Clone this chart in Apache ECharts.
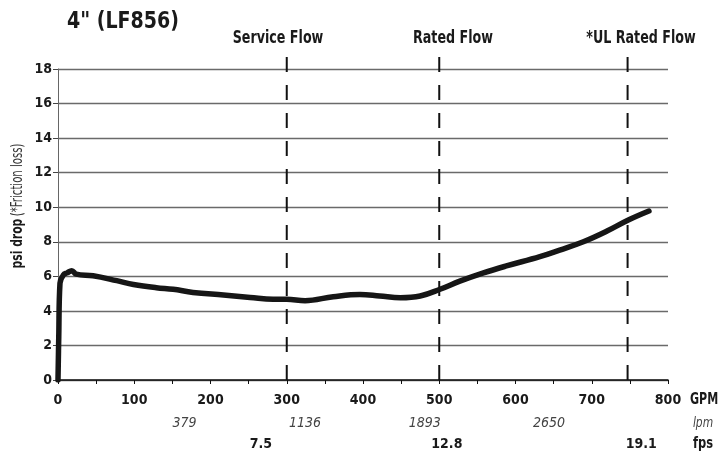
<!DOCTYPE html>
<html>
<head>
<meta charset="utf-8">
<script src="https://cdn.jsdelivr.net/npm/echarts@6/dist/echarts.min.js"></script>
<style>html,body{margin:0;padding:0;background:#fff}#c{width:719px;height:455px}</style>
</head>
<body>
<div id="c"></div>
<script>
// ---- data ----
var curveGPM = [0, 1, 2.6, 7, 12, 18, 24, 46, 77, 99, 129, 151, 177, 217, 252, 282, 300, 324, 361, 396, 422, 449, 475, 501, 527, 558, 588, 632, 658, 689, 720, 748, 775];
var curvePsi = [0, 2.5, 5.6, 6.08, 6.2, 6.33, 6.13, 6.03, 5.75, 5.53, 5.34, 5.25, 5.07, 4.92, 4.78, 4.67, 4.67, 4.59, 4.82, 4.95, 4.86, 4.76, 4.86, 5.25, 5.72, 6.2, 6.6, 7.14, 7.52, 8.0, 8.62, 9.26, 9.78];
var flowNames = ['Service Flow', 'Rated Flow', '*UL Rated Flow'];
var flowGPM = [300, 500, 747];
var flowTop = 18.9;
var lpmPos = [166, 324, 481, 644];
var lpmLabels = ['379', '1136', '1893', '2650'];
var fpsPos = [266, 510, 765];
var fpsLabels = ['7.5', '12.8', '19.1'];

var FONT = "'DejaVu Sans Condensed','Liberation Sans',sans-serif";
var chart = echarts.init(document.getElementById('c'));

var series = [{
  type: 'line',
  data: curveGPM.map(function (g, i) { return [g, curvePsi[i]]; }),
  smooth: 0.4,
  showSymbol: false,
  symbol: 'none',
  lineStyle: { color: '#161616', width: 5.5, cap: 'round', join: 'round' },
  z: 5
}];
flowGPM.forEach(function (g) {
  series.push({
    type: 'line',
    data: [[g, 0], [g, flowTop]],
    clip: false,
    symbol: 'none',
    lineStyle: { color: '#111', width: 2, type: [15, 13] },
    z: 4
  });
});

var lpmMap = {}; lpmPos.forEach(function (p, i) { lpmMap[p] = lpmLabels[i]; });
var fpsMap = {}; fpsPos.forEach(function (p, i) { fpsMap[p] = fpsLabels[i]; });

function txt(x, y, text, font, align, sx, fill) {
  return { type: 'text', x: x, y: y, scaleX: sx, style: { text: text, font: font, fill: fill || '#1a1a1a', align: align, verticalAlign: 'middle' } };
}

chart.setOption({
  animation: false,
  grid: { left: 58, right: 51, top: 69, bottom: 75 },
  xAxis: [{
    type: 'value', min: 0, max: 800, interval: 100,
    axisLine: { show: true, lineStyle: { color: '#111', width: 1.5 } },
    axisTick: { show: true, length: 4, lineStyle: { color: '#111' } },
    minorTick: { show: true, splitNumber: 2, length: 4, lineStyle: { color: '#111' } },
    splitLine: { show: false },
    axisLabel: { margin: 13, color: '#1a1a1a', fontFamily: FONT, fontWeight: 'bold', fontSize: 14 }
  }, {
    type: 'value', min: 0, max: 800, position: 'bottom',
    axisLine: { show: false }, axisTick: { show: false }, splitLine: { show: false },
    axisLabel: {
      customValues: lpmPos, margin: 36, color: '#444', fontFamily: FONT, fontStyle: 'italic', fontSize: 14,
      formatter: function (v) { return lpmMap[v] || ''; }
    }
  }, {
    type: 'value', min: 0, max: 800, position: 'bottom',
    axisLine: { show: false }, axisTick: { show: false }, splitLine: { show: false },
    axisLabel: {
      customValues: fpsPos, margin: 57, color: '#1a1a1a', fontFamily: FONT, fontWeight: 'bold', fontSize: 14,
      formatter: function (v) { return fpsMap[v] || ''; }
    }
  }],
  yAxis: {
    type: 'value', min: 0, max: 18, interval: 2,
    axisLine: { show: true, lineStyle: { color: '#666', width: 1 } },
    axisTick: { show: true, length: 5, lineStyle: { color: '#444' } },
    splitLine: { show: true, lineStyle: { color: '#6a6a6a', width: 1.3 } },
    axisLabel: { margin: 6, color: '#1a1a1a', fontFamily: FONT, fontWeight: 'bold', fontSize: 14 }
  },
  series: series,
  graphic: [
    { type: 'text', x: 67, y: 22, scaleX: 0.92, style: { text: '4" (LF856)', font: "bold 23px " + FONT, fill: '#1a1a1a', align: 'left', verticalAlign: 'middle' } },
    txt(278, 39, flowNames[0], "bold 17px " + FONT, 'center', 0.83),
    txt(453, 39, flowNames[1], "bold 17px " + FONT, 'center', 0.83),
    txt(641, 39, flowNames[2], "bold 17px " + FONT, 'center', 0.83),
    txt(690, 400, 'GPM', "bold 15px " + FONT, 'left', 0.82),
    txt(703, 423, 'lpm', "italic 14px " + FONT, 'center', 0.85, '#444'),
    txt(703, 444, 'fps', "bold 15px " + FONT, 'center', 0.85),
    {
      type: 'text', x: 18, y: 206, rotation: Math.PI / 2, scaleX: 0.75,
      style: {
        text: '{b|psi drop} {n|(*Friction loss)}', align: 'center', verticalAlign: 'middle',
        rich: {
          b: { font: "bold 16px " + FONT, fill: '#1a1a1a' },
          n: { font: "15px " + FONT, fill: '#333' }
        }
      }
    }
  ]
});
</script>
</body>
</html>
